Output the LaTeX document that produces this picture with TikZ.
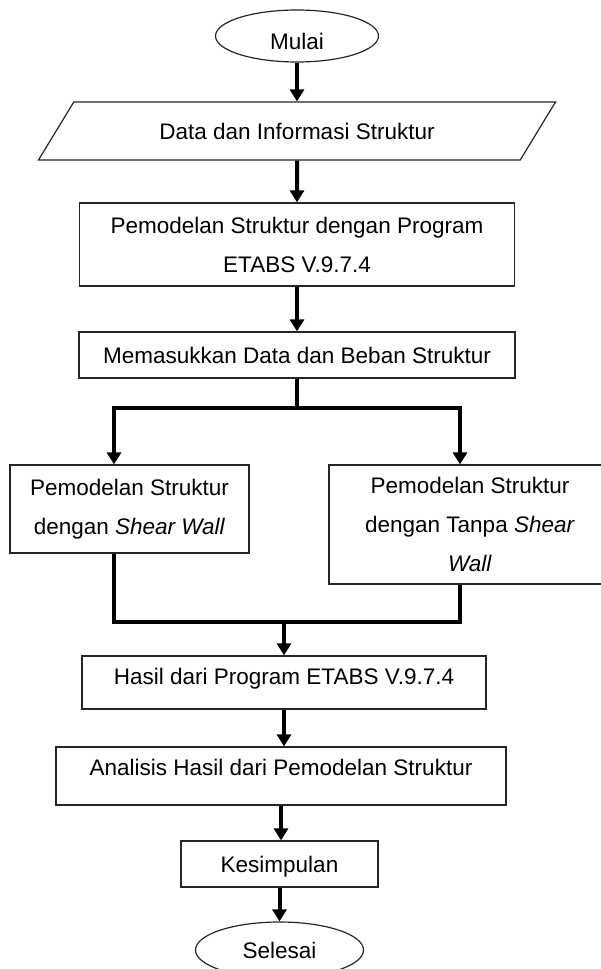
\documentclass[tikz,border=0pt]{standalone}
\usepackage{fontspec}
\setmainfont{Liberation Sans}
\usetikzlibrary{arrows.meta,positioning,shapes.geometric}

\begin{document}
\begin{tikzpicture}[x=1pt,y=-1pt,
    font=\fontsize{22.5}{39}\selectfont,
    kotak/.style={draw=black!85,line width=1.2pt,rectangle,inner sep=0pt,align=center},
    oval/.style={draw=black!85,line width=1.2pt,ellipse,inner sep=0pt},
    satu/.style={text height=16pt,text depth=0pt},
    panah/.style={line width=4pt,-{Triangle[width=14pt,length=12pt]}},
    garis/.style={line width=4pt,line join=miter}]
  \useasboundingbox (0,0) rectangle (601,969);
  % simbol alur
  \node[oval,minimum width=163pt,minimum height=52pt,text height=26pt,text depth=0pt] (mulai) at (297,36) {Mulai};
  \node[draw=black!85,line width=1.2pt,trapezium,trapezium left angle=24.4,trapezium right angle=155.6,
        trapezium stretches body=true,minimum width=517pt,minimum height=58pt,inner sep=0pt,satu] (data) at (297,131) {Data dan Informasi Struktur};
  \node[kotak,minimum width=435pt,minimum height=83pt] (model) at (297,244.5) {Pemodelan Struktur dengan Program\\ETABS V.9.7.4};
  \node[kotak,satu,minimum width=436pt,minimum height=46pt] (input) at (297,355) {Memasukkan Data dan Beban Struktur};
  \node[kotak,minimum width=239pt,minimum height=88pt] (kiri) at (129.5,509) {Pemodelan Struktur\\dengan \textit{Shear Wall}};
  \node[kotak,minimum width=282pt,minimum height=119pt] (kanan) at (470,524.5) {Pemodelan Struktur\\dengan Tanpa \textit{Shear}\\\textit{Wall}};
  \node[kotak,satu,text depth=13pt,minimum width=404pt,minimum height=53pt] (hasil) at (284,682.5) {Hasil dari Program ETABS V.9.7.4};
  \node[kotak,satu,text depth=18pt,minimum width=450pt,minimum height=58pt] (analisis) at (281,776) {Analisis Hasil dari Pemodelan Struktur};
  \node[kotak,satu,minimum width=197pt,minimum height=46pt] (simpul) at (279.5,864) {Kesimpulan};
  \node[oval,satu,minimum width=168pt,minimum height=56pt] (selesai) at (279.5,950) {Selesai};
  % titik cabang
  \coordinate (bagi) at (297,408);
  \coordinate (kiriatas) at (114,408);
  \coordinate (kananatas) at (460,408);
  \coordinate (gabung) at (284,622);
  % panah
  \draw[panah] (mulai) -- (data);
  \draw[panah] (data) -- (model);
  \draw[panah] (model) -- (input);
  \draw[garis] (input.south) -- (bagi);
  \draw[panah,line join=miter] (bagi) -| (kiriatas |- kiri.north);
  \draw[panah,line join=miter] (bagi) -| (kananatas |- kanan.north);
  \draw[garis] (kiri.south -| kiriatas) |- (gabung) -| (kanan.south -| kananatas);
  \draw[panah] (gabung) -- (hasil.north);
  \draw[panah] (hasil.south) -- (hasil.south |- analisis.north);
  \draw[panah] (analisis.south) -- (analisis.south |- simpul.north);
  \draw[panah] (simpul) -- (selesai);
\end{tikzpicture}
\end{document}
